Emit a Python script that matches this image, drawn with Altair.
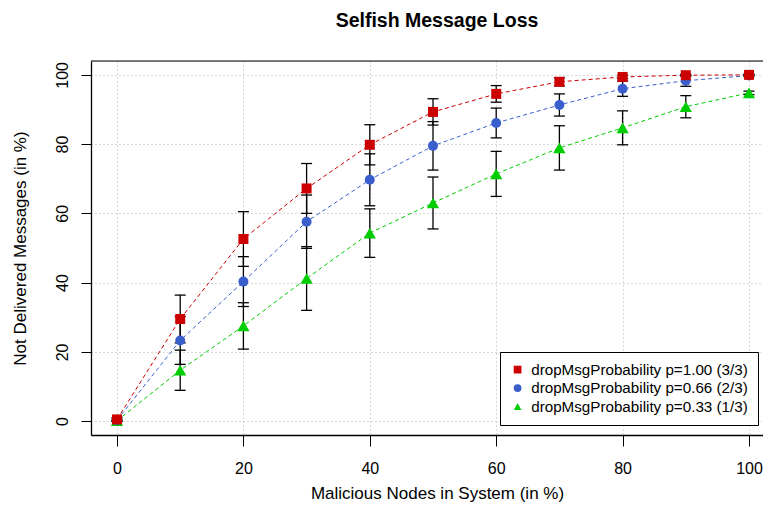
import altair as alt
import pandas as pd

x_vals = [0, 10, 20, 30, 40, 50, 60, 70, 80, 90, 100]
series_names = [
    "dropMsgProbability p=1.00 (3/3)",
    "dropMsgProbability p=0.66 (2/3)",
    "dropMsgProbability p=0.33 (1/3)",
]
red_mean = [0.5, 29.5, 52.6, 67.2, 79.8, 89.3, 94.5, 98.0, 99.4, 99.9, 100.0]
red_err = [0.5, 6.9, 7.9, 7.2, 5.8, 3.8, 2.4, 1.2, 0.5, 0.3, 0.2]
blue_mean = [0.3, 23.3, 40.3, 57.6, 69.7, 79.5, 86.1, 91.3, 96.0, 98.3, 99.8]
blue_err = [0.3, 6.9, 7.2, 7.7, 7.5, 7.0, 4.3, 3.2, 2.2, 1.6, 0.3]
green_mean = [0.1, 14.7, 27.5, 41.2, 54.3, 63.0, 71.4, 78.9, 84.7, 90.8, 94.8]
green_err = [0.2, 5.8, 6.7, 9.2, 7.0, 7.5, 6.5, 6.4, 4.9, 3.2, 0.5]

colors = ["#CC0000", "#3A5FCD", "#00CD00"]
shapes = ["square", "circle", "triangle-up"]
axis_ticks = [0, 20, 40, 60, 80, 100]

means = [red_mean, blue_mean, green_mean]
errs = [red_err, blue_err, green_err]
rows = []
for i in [2, 1, 0]:
    for x, m, e in zip(x_vals, means[i], errs[i]):
        rows.append(dict(series=series_names[i], x=x, y=m, lo=m - e, hi=m + e))
df = pd.DataFrame(rows)

FONT = "Liberation Sans"
W, H = 672, 374
PX = 6.32
X0 = -26 / PX

xscale = alt.Scale(domain=[X0, X0 + W / PX], nice=False, zero=False)
yscale = alt.Scale(domain=[-4, 104], nice=False, zero=False)
cscale = alt.Scale(domain=series_names, range=colors)
sscale = alt.Scale(domain=series_names, range=shapes)

xaxis = alt.Axis(
    values=axis_ticks, title="Malicious Nodes in System (in %)",
    grid=True, gridDash=[1, 3], gridColor="#b0b0b0", gridWidth=1,
    domainColor="black", domainWidth=1.3, tickColor="black", tickSize=11, tickWidth=1,
    labelFont=FONT, labelFontSize=16, labelColor="black", labelPadding=14,
    titleFont=FONT, titleFontSize=17, titleFontWeight="normal", titleColor="black",
    titleX=346, titleY=58, titleAlign="center", titleBaseline="middle",
)
yaxis = alt.Axis(
    values=axis_ticks, title="Not Delivered Messages (in %)",
    grid=True, gridDash=[1, 3], gridColor="#b0b0b0", gridWidth=1,
    domainColor="black", domainWidth=1.3, tickColor="black", tickSize=10, tickWidth=1,
    labelFont=FONT, labelFontSize=16, labelColor="black", labelPadding=11,
    labelAngle=-90, labelAlign="center", labelBaseline="bottom",
    titleFont=FONT, titleFontSize=17, titleFontWeight="normal", titleColor="black",
    titleX=-71, titleY=187, titleAlign="center", titleBaseline="middle", titleAngle=-90,
)

legend_spec = dict(
    title=None, orient="none", legendX=409, legendY=291,
    fillColor="white", strokeColor="black", padding=10,
    labelFont=FONT, labelFontSize=15.2, labelColor="black", labelOffset=6,
    labelLimit=400, symbolSize=60, rowPadding=2.5, symbolStrokeWidth=0,
)

base = alt.Chart(df)

line_layers = []
for i, name in enumerate(series_names):
    enc = dict(x=alt.X("x:Q", scale=xscale, axis=xaxis), y=alt.Y("y:Q", scale=yscale, axis=yaxis)) if i == 0 else dict(x="x:Q", y="y:Q")
    line_layers.append(
        base.transform_filter(alt.datum.series == name)
        .mark_line(strokeDash=[4, 3], strokeWidth=1, color=colors[i])
        .encode(**enc)
    )

bars = base.mark_rule(color="black", strokeWidth=1.3).encode(
    x="x:Q", y="lo:Q", y2="hi:Q"
)
cap_lo = base.mark_tick(orient="horizontal", color="black", size=11, thickness=1.3, opacity=1).encode(
    x="x:Q", y="lo:Q"
)
cap_hi = base.mark_tick(orient="horizontal", color="black", size=11, thickness=1.3, opacity=1).encode(
    x="x:Q", y="hi:Q"
)

def point_layer(names, size):
    return (
        base.transform_filter(alt.FieldOneOfPredicate(field="series", oneOf=names))
        .mark_point(filled=True, opacity=1, size=size)
        .encode(
            x="x:Q", y="y:Q",
            color=alt.Color("series:N", scale=cscale, legend=alt.Legend(**legend_spec)),
            shape=alt.Shape("series:N", scale=sscale, legend=alt.Legend(**legend_spec)),
        )
    )

pts_green = point_layer([series_names[2]], 150)
pts_rb = point_layer([series_names[1], series_names[0]], 100)

top_border = alt.Chart(pd.DataFrame({"a": [0]})).mark_rule(color="black", strokeWidth=1).encode(
    x=alt.value(0), x2=alt.value(W), y=alt.value(0)
)

chart = alt.layer(*line_layers, bars, cap_lo, cap_hi, pts_green, pts_rb, top_border).properties(
    width=W, height=H,
    title=alt.TitleParams(
        "Selfish Message Loss", font=FONT, fontSize=19.5, fontWeight="bold",
        color="black", anchor="middle", dx=10, offset=29,
    ),
    autosize=alt.AutoSizeParams(type="none"),
    padding={"left": 83, "top": 53, "right": 0, "bottom": 80},
).configure_view(strokeWidth=0).configure(background="white")

chart.save("out.html", embed_options={"renderer": "svg", "actions": False})
